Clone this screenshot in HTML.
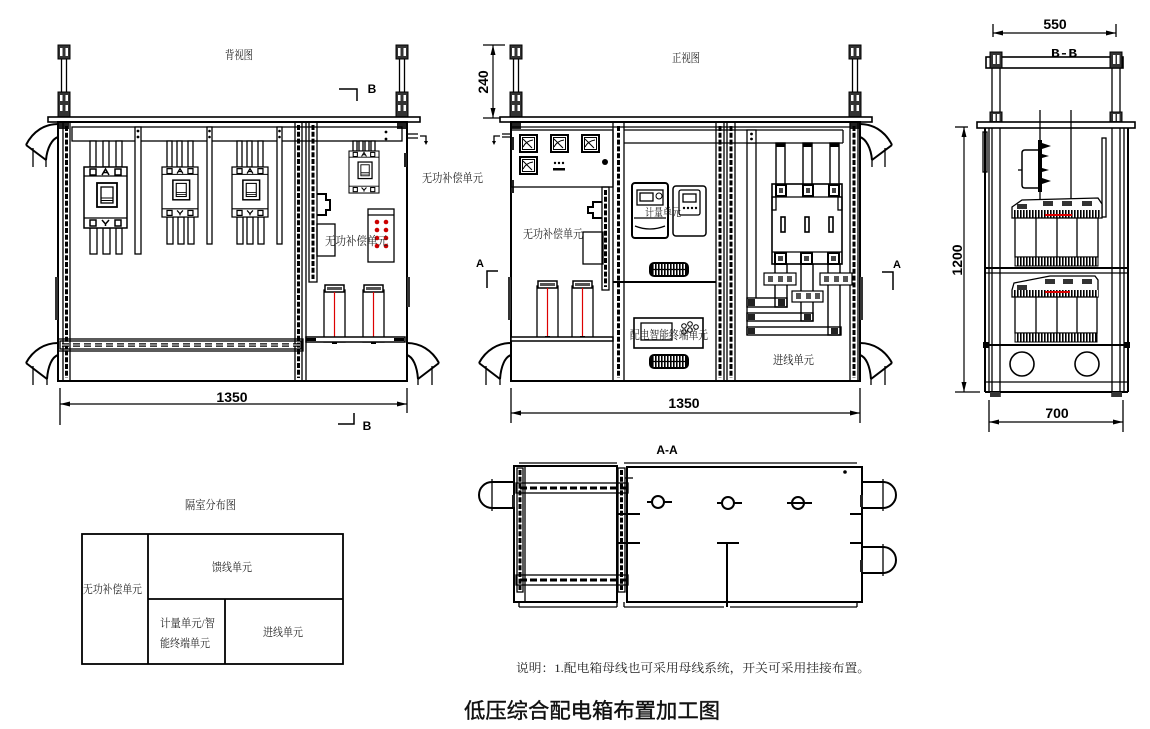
<!DOCTYPE html>
<html><head><meta charset="utf-8">
<style>
html,body{margin:0;padding:0;background:#fff;}
svg{display:block}
.l{fill:none;stroke:#000;stroke-width:1.3}
.w{fill:#fff;stroke:#000;stroke-width:1.3}
.b{fill:none;stroke:#000;stroke-width:2}
.k{fill:#000;stroke:none}
.dv{fill:none;stroke:#000;stroke-width:3;stroke-dasharray:5 1.8}
.cn{font-family:"Liberation Serif","Noto Serif CJK SC",serif;fill:#222}
.num{font-family:"Liberation Sans",sans-serif;font-weight:bold;fill:#000}
</style></head><body>
<svg width="1150" height="729" viewBox="0 0 1150 729" xmlns="http://www.w3.org/2000/svg">
<defs>
<marker id="ar" markerUnits="userSpaceOnUse" markerWidth="10" markerHeight="5" refX="10" refY="2.5" orient="auto-start-reverse" viewBox="0 0 10 5"><path d="M0,0L10,2.5L0,5z"/></marker>
<pattern id="vs" width="3" height="10" patternUnits="userSpaceOnUse"><rect width="3" height="10" fill="#fff"/><rect width="1.6" height="10" fill="#000"/></pattern>
<g id="bolt">
 <line class="l" x1="-2.5" y1="45" x2="-2.5" y2="120"/>
 <line class="l" x1="2.5" y1="45" x2="2.5" y2="120"/>
 <rect x="-6" y="45" width="12" height="14" fill="#333" stroke="#000"/>
 <rect x="-4" y="48" width="2.5" height="8" fill="#fff"/>
 <rect x="1.5" y="48" width="2.5" height="8" fill="#fff"/>
 <rect x="-6" y="92" width="12" height="25" fill="#333" stroke="#000"/>
 <rect x="-4" y="95" width="2.5" height="6" fill="#fff"/>
 <rect x="1.5" y="95" width="2.5" height="6" fill="#fff"/>
 <rect x="-4" y="105" width="2.5" height="6" fill="#fff"/>
 <rect x="1.5" y="105" width="2.5" height="6" fill="#fff"/>
 <rect x="-5" y="122" width="10" height="7" fill="#222"/>
</g>
<g id="elbT">
 <path class="b" d="M58,124 C45,124 33,131 26,145"/>
 <path class="b" d="M58,137 C52,139 47,148 46,160"/>
 <path class="b" d="M26,145 L46,160"/>
 <path class="l" d="M33,148 V167 M46,160 V167"/>
</g>
<g id="elbB">
 <path class="b" d="M58,343 C45,343 33,350 26,363"/>
 <path class="b" d="M58,355 C52,357 48,366 47,379"/>
 <path class="b" d="M26,363 L47,379"/>
 <path class="l" d="M33,366 V385 M47,379 V385"/>
</g>
<g id="cap">
 <rect class="w" x="0" y="5" width="21" height="52"/>
 <rect x="1" y="0" width="19" height="7" fill="#fff" stroke="#000" stroke-width="1.5"/>
 <rect x="3" y="2" width="15" height="3" fill="#555"/>
 <line x1="10.5" y1="7" x2="10.5" y2="56" stroke="#d00" stroke-width="1.2"/>
 <rect x="8" y="55" width="5" height="4" fill="#000"/>
</g>
<g id="gauge">
 <rect x="0" y="0" width="17" height="17" fill="#fff" stroke="#000" stroke-width="2"/>
 <rect x="2.5" y="2.5" width="12" height="12" fill="none" stroke="#000"/>
 <path d="M3,4 L12,13 M3,12 Q6,6 13,5" fill="none" stroke="#000"/>
</g>
<g id="grille">
 <rect x="0" y="0" width="40" height="15" rx="5" fill="#000"/>
 <rect x="3" y="2" width="34" height="11" fill="url(#vs)"/>
 <line x1="3" y1="7.5" x2="37" y2="7.5" stroke="#000" stroke-width="1.2"/>
</g>
<g id="brk">
 <rect x="0" y="0" width="43" height="61" fill="#fff" stroke="#000" stroke-width="1.5"/>
 <line x1="0" y1="9" x2="43" y2="9" stroke="#000" stroke-width="1.3"/>
 <line x1="0" y1="51" x2="43" y2="51" stroke="#000" stroke-width="1.3"/>
 <rect x="6" y="2" width="6" height="6" fill="none" stroke="#000" stroke-width="1.5"/>
 <rect x="31" y="2" width="6" height="6" fill="none" stroke="#000" stroke-width="1.5"/>
 <path d="M18,8 L21.5,2 L25,8 M19.5,5.5 H23.5" fill="none" stroke="#000" stroke-width="1.5"/>
 <rect x="13" y="16" width="20" height="24" fill="none" stroke="#000" stroke-width="1.8"/>
 <rect x="17" y="20" width="12" height="16" fill="none" stroke="#000" stroke-width="1.3"/>
 <line x1="17" y1="31" x2="29" y2="31" stroke="#000"/>
 <line x1="17" y1="33.5" x2="29" y2="33.5" stroke="#000"/>
 <rect x="6" y="53" width="6" height="6" fill="none" stroke="#000" stroke-width="1.5"/>
 <rect x="31" y="53" width="6" height="6" fill="none" stroke="#000" stroke-width="1.5"/>
 <path d="M18,53 L21.5,57 L25,53 M21.5,57 V59" fill="none" stroke="#000" stroke-width="1.5"/>
</g>
</defs>

<!-- ================= BACK VIEW ================= -->
<text class="cn" x="225" y="59" font-size="12" textLength="28" lengthAdjust="spacingAndGlyphs">背视图</text>
<use href="#bolt" transform="translate(64,0)"/>
<use href="#bolt" transform="translate(402,0)"/>
<rect class="w" x="48" y="117" width="372" height="5" style="stroke-width:1.6"/>
<use href="#elbT"/>
<use href="#elbB"/>
<use href="#elbB" transform="translate(465,0) scale(-1,1)"/>
<rect class="b" x="58" y="122" width="349" height="259"/>
<line class="l" x1="63" y1="122" x2="63" y2="381"/>
<line class="l" x1="70" y1="122" x2="70" y2="381"/>
<line class="dv" x1="66.5" y1="126" x2="66.5" y2="378"/>
<rect class="l" x="72" y="127" width="330" height="14"/>
<rect x="55" y="277" width="3" height="43" fill="#333"/>
<rect x="407" y="277" width="3" height="30" fill="#333"/>
<rect x="404" y="153" width="3" height="14" fill="#222"/>
<path class="l" d="M408,134 H418 M408,138 H418 M420,136 H426 V143" />
<path d="M424,141 L426,145 L428,141z"/>
<g fill="#fff" stroke="#000" stroke-width="1.3">
 <rect x="90" y="141" width="6" height="26"/><rect x="103" y="141" width="6" height="26"/><rect x="116" y="141" width="6" height="26"/>
 <rect x="90" y="228" width="7" height="26"/><rect x="103" y="228" width="7" height="26"/><rect x="116" y="228" width="6" height="26"/>
 <rect x="167" y="141" width="5" height="26"/><rect x="177" y="141" width="5" height="26"/><rect x="188" y="141" width="5" height="26"/>
 <rect x="167" y="217" width="6" height="27"/><rect x="178" y="217" width="6" height="27"/><rect x="188" y="217" width="6" height="27"/>
 <rect x="237" y="141" width="5" height="26"/><rect x="247" y="141" width="5" height="26"/><rect x="258" y="141" width="5" height="26"/>
 <rect x="237" y="217" width="6" height="27"/><rect x="247" y="217" width="6" height="27"/><rect x="258" y="217" width="6" height="27"/>
 <rect x="135" y="127" width="6" height="127"/>
 <rect x="207" y="127" width="5" height="117"/>
 <rect x="277" y="127" width="5" height="117"/>
 <rect x="353" y="141" width="4" height="10"/><rect x="359" y="141" width="4" height="10"/><rect x="365" y="141" width="4" height="10"/><rect x="371" y="141" width="4" height="10"/>
</g>
<g fill="#000"><circle cx="138" cy="131" r="1.4"/><circle cx="138" cy="137" r="1.4"/><circle cx="209.5" cy="131" r="1.3"/><circle cx="209.5" cy="137" r="1.3"/><circle cx="279.5" cy="131" r="1.3"/><circle cx="279.5" cy="137" r="1.3"/><circle cx="386" cy="132" r="1.4"/><circle cx="386" cy="139" r="1.4"/></g>
<use href="#brk" transform="translate(84,167)"/>
<use href="#brk" transform="translate(162,167) scale(0.837,0.82)"/>
<use href="#brk" transform="translate(232,167) scale(0.837,0.82)"/>
<use href="#brk" transform="translate(349,151) scale(0.698,0.689)"/>
<rect class="l" x="295" y="122" width="7" height="259"/><line class="dv" x1="298.5" y1="125" x2="298.5" y2="378"/>
<line class="l" x1="306" y1="122" x2="306" y2="381"/>
<rect class="l" x="309" y="122" width="8" height="160"/><line class="dv" x1="313" y1="125" x2="313" y2="279"/>
<path class="b" d="M317,194 H326 V200 H330 V210 H326 V215 H317"/>
<rect class="l" x="317" y="224" width="18" height="32"/>
<rect class="w" x="368" y="209" width="26" height="53"/>
<line class="l" x1="368" y1="215" x2="394" y2="215"/>
<g fill="#c00"><circle cx="377" cy="222" r="2.3"/><circle cx="386" cy="222" r="2.3"/><circle cx="377" cy="230" r="2.3"/><circle cx="386" cy="230" r="2.3"/><circle cx="377" cy="238" r="2.3"/><circle cx="386" cy="238" r="2.3"/><circle cx="377" cy="246" r="2.3"/><circle cx="386" cy="246" r="2.3"/></g>
<text class="cn" x="325" y="245" font-size="12" textLength="63" lengthAdjust="spacingAndGlyphs">无功补偿单元</text>
<use href="#cap" transform="translate(324,285)"/>
<use href="#cap" transform="translate(363,285)"/>
<rect x="306" y="337" width="99" height="5" fill="#fff" stroke="#000" stroke-width="1.5"/>
<rect x="306" y="338" width="10" height="3" fill="#000"/><rect x="394" y="338" width="10" height="3" fill="#000"/>
<rect class="l" x="58" y="339" width="245" height="12"/>
<rect class="l" x="60" y="341" width="241" height="8"/>
<line x1="62" y1="345" x2="300" y2="345" stroke="#000" stroke-width="3.5" stroke-dasharray="7 4"/>
<line x1="62" y1="345" x2="300" y2="345" stroke="#fff" stroke-width="1" stroke-dasharray="7 4"/>
<line class="l" x1="60" y1="388" x2="60" y2="425"/>
<line class="l" x1="407" y1="388" x2="407" y2="413"/>
<line x1="60" y1="404" x2="407" y2="404" stroke="#000" stroke-width="1.2" marker-start="url(#ar)" marker-end="url(#ar)"/>
<text class="num" x="232" y="402" font-size="14" text-anchor="middle">1350</text>
<path class="l" d="M339,89 H357 V101" style="stroke-width:1.5"/>
<text class="num" x="372" y="93" font-size="12" text-anchor="middle">B</text>
<path class="l" d="M338,424 H354 V413" style="stroke-width:1.5"/>
<text class="num" x="367" y="430" font-size="12" text-anchor="middle">B</text>
<text class="cn" x="422" y="182" font-size="12" textLength="61" lengthAdjust="spacingAndGlyphs">无功补偿单元</text>

<!-- ================= FRONT VIEW ================= -->
<text class="cn" x="672" y="62" font-size="12" textLength="28" lengthAdjust="spacingAndGlyphs">正视图</text>
<use href="#bolt" transform="translate(516,0)"/>
<use href="#bolt" transform="translate(855,0)"/>
<rect class="w" x="500" y="117" width="372" height="5" style="stroke-width:1.6"/>
<use href="#elbB" transform="translate(453,0)"/>
<use href="#elbB" transform="translate(918,0) scale(-1,1)"/>
<use href="#elbT" transform="translate(918,0) scale(-1,1)"/>
<rect class="b" x="511" y="122" width="349" height="259"/>
<line class="l" x1="511" y1="127" x2="850" y2="127"/>
<rect x="508" y="277" width="3" height="43" fill="#333"/>
<rect x="860" y="277" width="3" height="43" fill="#333"/>
<rect x="511" y="137" width="3" height="13" fill="#222"/>
<rect x="511" y="180" width="3" height="13" fill="#222"/>
<path class="l" d="M502,134 H510 M502,137 H510 M500,136 H494 V142"/>
<path d="M492,141 L494,145 L496,141z"/>
<rect class="l" x="511" y="130" width="102" height="57"/>
<use href="#gauge" transform="translate(520,135)"/>
<use href="#gauge" transform="translate(551,135)"/>
<use href="#gauge" transform="translate(582,135)"/>
<use href="#gauge" transform="translate(520,157)"/>
<g fill="#000"><circle cx="555" cy="163" r="1.2"/><circle cx="559" cy="163" r="1.2"/><circle cx="563" cy="163" r="1.2"/><rect x="553" y="168" width="12" height="2.5"/><circle cx="605" cy="162" r="3"/></g>
<rect class="l" x="602" y="187" width="7" height="103"/><line class="dv" x1="605.5" y1="190" x2="605.5" y2="287"/>
<path class="b" d="M602,202 H593 V207 H588 V213 H593 V218 H602"/>
<rect class="l" x="583" y="232" width="20" height="32"/>
<text class="cn" x="523" y="238" font-size="12" textLength="60" lengthAdjust="spacingAndGlyphs">无功补偿单元</text>
<use href="#cap" transform="translate(537,281)"/>
<use href="#cap" transform="translate(572,281)"/>
<rect x="511" y="337" width="102" height="4" fill="#fff" stroke="#000" stroke-width="1.5"/>
<rect class="l" x="613" y="122" width="11" height="259"/><line class="dv" x1="618.5" y1="126" x2="618.5" y2="378"/>
<rect class="l" x="716" y="122" width="8" height="259"/><line class="dv" x1="720" y1="126" x2="720" y2="378"/>
<rect class="l" x="727" y="122" width="8" height="259"/><line class="dv" x1="731" y1="126" x2="731" y2="378"/>
<rect class="l" x="850" y="122" width="8" height="259"/><line class="dv" x1="854" y1="126" x2="854" y2="378"/>
<line class="l" x1="624" y1="130" x2="843" y2="130"/>
<line class="l" x1="624" y1="143" x2="843" y2="143"/>
<line class="l" x1="843" y1="130" x2="843" y2="143"/>
<line class="b" x1="613" y1="282" x2="716" y2="282"/>
<rect x="632" y="183" width="36" height="55" rx="3" fill="#fff" stroke="#000" stroke-width="2"/>
<rect class="l" x="637" y="190" width="26" height="15"/>
<rect class="l" x="640" y="193" width="13" height="8"/>
<circle cx="659" cy="196" r="3" fill="none" stroke="#000"/>
<line class="l" x1="634" y1="218" x2="666" y2="218"/>
<path class="l" d="M635,226 Q650,232 665,226"/>
<rect x="673" y="186" width="33" height="50" rx="3" fill="#fff" stroke="#000" stroke-width="1.5"/>
<rect class="l" x="679" y="190" width="21" height="25" rx="2"/>
<rect class="l" x="683" y="194" width="13" height="8"/>
<g fill="#000"><circle cx="684" cy="208" r="1.2"/><circle cx="688" cy="208" r="1.2"/><circle cx="692" cy="208" r="1.2"/><circle cx="696" cy="208" r="1.2"/></g>
<text class="cn" x="645" y="216" font-size="11" textLength="36" lengthAdjust="spacingAndGlyphs" fill="#555">计量单元</text>
<use href="#grille" transform="translate(649,262)"/>
<rect class="w" x="634" y="318" width="69" height="30" style="stroke-width:1.6"/>
<rect class="l" x="641" y="323" width="31" height="17"/>
<g fill="none" stroke="#000"><circle cx="684" cy="326" r="2.3"/><circle cx="690" cy="324" r="2.3"/><circle cx="690" cy="330" r="2.3"/><circle cx="696" cy="327" r="2.3"/><circle cx="684" cy="332" r="2.3"/></g>
<text class="cn" x="630" y="339" font-size="12" textLength="78" lengthAdjust="spacingAndGlyphs">配电智能终端单元</text>
<use href="#grille" transform="translate(649,354)"/>
<rect class="w" x="747" y="130" width="9" height="13"/>
<circle cx="751.5" cy="134" r="1.4"/><circle cx="751.5" cy="139" r="1.4"/>
<line class="l" x1="747" y1="143" x2="747" y2="335"/>
<line class="l" x1="756" y1="143" x2="756" y2="298"/>
<g fill="#fff" stroke="#000" stroke-width="1.4">
 <rect x="776" y="143" width="9" height="42"/><rect x="803" y="143" width="9" height="42"/><rect x="830" y="143" width="9" height="42"/>
</g>
<g fill="#000"><rect x="776" y="143" width="9" height="4"/><rect x="803" y="143" width="9" height="4"/><rect x="830" y="143" width="9" height="4"/></g>
<rect class="w" x="772" y="184" width="70" height="80" style="stroke-width:1.6"/>
<line class="l" x1="772" y1="197" x2="842" y2="197"/>
<line class="l" x1="772" y1="252" x2="842" y2="252"/>
<g fill="#fff" stroke="#000" stroke-width="2">
 <rect x="776" y="185" width="10" height="11"/><rect x="803" y="185" width="10" height="11"/><rect x="829" y="185" width="10" height="11"/>
 <rect x="775" y="253" width="11" height="11"/><rect x="801" y="253" width="11" height="11"/><rect x="828" y="253" width="11" height="11"/>
</g>
<g fill="#444"><rect x="779" y="188" width="4" height="5"/><rect x="806" y="188" width="4" height="5"/><rect x="832" y="188" width="4" height="5"/><rect x="778" y="256" width="5" height="5"/><rect x="804" y="256" width="5" height="5"/><rect x="831" y="256" width="5" height="5"/></g>
<rect class="l" x="772" y="197" width="4" height="13"/><rect class="l" x="838" y="197" width="4" height="13"/>
<g fill="none" stroke="#000" stroke-width="1.6"><rect x="781" y="217" width="4" height="15"/><rect x="805" y="217" width="4" height="15"/><rect x="829" y="217" width="4" height="15"/></g>
<g fill="none" stroke="#000" stroke-width="1.4">
 <rect x="775" y="264" width="12" height="43"/><rect x="801" y="264" width="12" height="57"/><rect x="828" y="264" width="12" height="71"/>
 <rect x="747" y="298" width="40" height="9"/><rect x="747" y="313" width="66" height="8"/><rect x="747" y="327" width="94" height="8"/>
</g>
<g fill="#fff" stroke="#000" stroke-width="1.2">
 <rect x="764" y="273" width="32" height="12"/><rect x="820" y="273" width="32" height="12"/><rect x="792" y="291" width="31" height="11"/>
</g>
<g fill="#555"><rect x="768" y="276" width="5" height="6"/><rect x="778" y="276" width="5" height="6"/><rect x="787" y="276" width="5" height="6"/>
<rect x="824" y="276" width="5" height="6"/><rect x="834" y="276" width="5" height="6"/><rect x="843" y="276" width="5" height="6"/>
<rect x="796" y="293" width="5" height="6"/><rect x="806" y="293" width="5" height="6"/><rect x="815" y="293" width="5" height="6"/></g>
<g fill="#222"><rect x="748" y="299" width="7" height="7"/><rect x="778" y="299" width="7" height="7"/><rect x="748" y="314" width="7" height="6"/><rect x="804" y="314" width="7" height="6"/><rect x="748" y="328" width="7" height="6"/><rect x="831" y="328" width="7" height="6"/></g>
<text class="cn" x="773" y="364" font-size="12" textLength="41" lengthAdjust="spacingAndGlyphs">进线单元</text>
<line class="l" x1="511" y1="388" x2="511" y2="423"/>
<line class="l" x1="860" y1="388" x2="860" y2="423"/>
<line x1="511" y1="413" x2="860" y2="413" stroke="#000" stroke-width="1.2" marker-start="url(#ar)" marker-end="url(#ar)"/>
<text class="num" x="684" y="408" font-size="14" text-anchor="middle">1350</text>
<line class="l" x1="483" y1="45" x2="505" y2="45"/>
<line class="l" x1="483" y1="118" x2="500" y2="118"/>
<line x1="493" y1="45" x2="493" y2="118" stroke="#000" stroke-width="1.2" marker-start="url(#ar)" marker-end="url(#ar)"/>
<text class="num" font-size="14" text-anchor="middle" transform="translate(488,82) rotate(-90)">240</text>
<text class="num" x="480" y="267" font-size="11" text-anchor="middle">A</text>
<path class="l" d="M498,271 H487 V288" style="stroke-width:1.5"/>
<text class="num" x="897" y="268" font-size="11" text-anchor="middle">A</text>
<path class="l" d="M882,272 H893 V290" style="stroke-width:1.5"/>

<!-- ================= B-B VIEW ================= -->
<text class="num" x="1055" y="29" font-size="14" text-anchor="middle">550</text>
<line class="l" x1="993" y1="24" x2="993" y2="37"/>
<line class="l" x1="1116" y1="24" x2="1116" y2="37"/>
<line x1="993" y1="33" x2="1116" y2="33" stroke="#000" stroke-width="1.2" marker-start="url(#ar)" marker-end="url(#ar)"/>
<text x="1051" y="57" font-size="12" font-family="Liberation Mono, monospace" font-weight="bold" textLength="26" lengthAdjust="spacingAndGlyphs">B-B</text>
<rect class="w" x="986" y="57" width="137" height="11" style="stroke-width:1.6"/>
<g class="l"><line x1="992" y1="52" x2="992" y2="397"/><line x1="1000" y1="52" x2="1000" y2="397"/><line x1="1112" y1="52" x2="1112" y2="397"/><line x1="1120" y1="52" x2="1120" y2="397"/></g>
<g fill="#333" stroke="#000"><rect x="990" y="52" width="12" height="16"/><rect x="1110" y="52" width="12" height="16"/><rect x="990" y="112" width="12" height="12"/><rect x="1110" y="112" width="12" height="12"/></g>
<g fill="#fff"><rect x="993" y="55" width="2.5" height="9"/><rect x="997" y="55" width="2.5" height="9"/><rect x="1113" y="55" width="2.5" height="9"/><rect x="1117" y="55" width="2.5" height="9"/><rect x="993" y="114" width="2.5" height="7"/><rect x="997" y="114" width="2.5" height="7"/><rect x="1113" y="114" width="2.5" height="7"/><rect x="1117" y="114" width="2.5" height="7"/></g>
<rect class="w" x="977" y="122" width="158" height="6" style="stroke-width:1.6"/>
<line class="b" x1="985" y1="128" x2="985" y2="392"/>
<line class="l" x1="989" y1="128" x2="989" y2="392"/>
<line class="b" x1="1128" y1="128" x2="1128" y2="392"/>
<line class="l" x1="1124" y1="128" x2="1124" y2="392"/>
<rect class="l" x="983" y="132" width="4" height="40"/>
<rect class="l" x="1102" y="138" width="4" height="79"/>
<line class="l" x1="1040" y1="110" x2="1040" y2="200"/>
<line class="l" x1="1071" y1="110" x2="1071" y2="200"/>
<path class="l" d="M1038,150 H1025 Q1022,150 1022,153 V185 Q1022,188 1025,188 H1038" style="stroke-width:1.5"/>
<rect x="1038" y="140" width="4" height="52" fill="#000"/>
<g fill="#000"><path d="M1042,143 L1051,146 L1042,149z"/><path d="M1042,154 L1049,156 L1042,158z"/><path d="M1042,168 L1049,170 L1042,172z"/><path d="M1042,178 L1051,181 L1042,184z"/></g>
<line class="l" x1="1018" y1="170" x2="1022" y2="170"/>
<path class="w" d="M1012,207 L1022,200 L1098,198 L1102,204 V218 H1012 Z"/>
<g fill="#333"><rect x="1017" y="204" width="10" height="5"/><rect x="1043" y="201" width="10" height="5"/><rect x="1062" y="201" width="10" height="5"/><rect x="1082" y="201" width="10" height="5"/></g>
<rect x="1014" y="210" width="86" height="8" fill="url(#vs)"/>
<line x1="1045" y1="215" x2="1072" y2="215" stroke="#d00" stroke-width="2"/>
<rect class="w" x="1015" y="218" width="83" height="39"/>
<g class="l"><line x1="1036" y1="218" x2="1036" y2="257"/><line x1="1057" y1="218" x2="1057" y2="257"/><line x1="1077" y1="218" x2="1077" y2="257"/></g>
<rect x="1015" y="257" width="83" height="9" fill="url(#vs)" stroke="#000"/>
<line class="b" x1="985" y1="268" x2="1128" y2="268"/>
<line class="l" x1="985" y1="273" x2="1128" y2="273"/>
<path class="w" d="M1012,290 L1014,283 L1050,276 H1095 L1098,280 V297 H1012 Z"/>
<g fill="#333"><rect x="1017" y="285" width="10" height="5"/><rect x="1045" y="279" width="10" height="5"/><rect x="1063" y="279" width="10" height="5"/><rect x="1082" y="279" width="10" height="5"/></g>
<rect x="1014" y="290" width="84" height="7" fill="url(#vs)"/>
<line x1="1045" y1="292" x2="1070" y2="292" stroke="#d00" stroke-width="2"/>
<rect class="w" x="1015" y="297" width="82" height="36"/>
<g class="l"><line x1="1036" y1="297" x2="1036" y2="333"/><line x1="1057" y1="297" x2="1057" y2="333"/><line x1="1077" y1="297" x2="1077" y2="333"/></g>
<rect x="1015" y="333" width="82" height="9" fill="url(#vs)" stroke="#000"/>
<line class="b" x1="985" y1="345" x2="1128" y2="345"/>
<rect x="983" y="342" width="6" height="6" fill="#000"/><rect x="1124" y="342" width="6" height="6" fill="#000"/>
<line class="l" x1="985" y1="382" x2="1128" y2="382"/>
<line class="b" x1="985" y1="392" x2="1128" y2="392"/>
<circle cx="1022" cy="364" r="12" fill="none" stroke="#000" stroke-width="1.6"/>
<circle cx="1087" cy="364" r="12" fill="none" stroke="#000" stroke-width="1.6"/>
<rect x="990" y="392" width="10" height="5" fill="#333"/><rect x="1112" y="392" width="10" height="5" fill="#333"/>
<line class="l" x1="955" y1="127" x2="968" y2="127"/>
<line class="l" x1="955" y1="392" x2="980" y2="392"/>
<line x1="964" y1="127" x2="964" y2="392" stroke="#000" stroke-width="1.2" marker-start="url(#ar)" marker-end="url(#ar)"/>
<text class="num" font-size="14" text-anchor="middle" transform="translate(962,260) rotate(-90)">1200</text>
<line class="l" x1="989" y1="400" x2="989" y2="432"/>
<line class="l" x1="1123" y1="400" x2="1123" y2="432"/>
<line x1="989" y1="422" x2="1123" y2="422" stroke="#000" stroke-width="1.2" marker-start="url(#ar)" marker-end="url(#ar)"/>
<text class="num" x="1057" y="418" font-size="14" text-anchor="middle">700</text>

<!-- ================= A-A ================= -->
<text class="num" x="667" y="454" font-size="12" text-anchor="middle">A-A</text>
<line class="l" x1="519" y1="463" x2="617" y2="463"/>
<line class="l" x1="624" y1="463" x2="857" y2="463"/>
<rect class="b" x="514" y="466" width="103" height="136"/>
<rect class="b" x="627" y="467" width="235" height="135"/>
<line class="l" x1="525" y1="466" x2="525" y2="602"/>
<line class="l" x1="519" y1="607" x2="617" y2="607"/>
<line class="l" x1="624" y1="607" x2="724" y2="607"/>
<line class="l" x1="730" y1="607" x2="857" y2="607"/>
<line class="l" x1="519" y1="602" x2="519" y2="607"/><line class="l" x1="617" y1="602" x2="617" y2="607"/>
<line class="l" x1="624" y1="602" x2="624" y2="607"/><line class="l" x1="857" y1="602" x2="857" y2="607"/>
<rect class="l" x="516" y="483" width="112" height="10"/><line x1="520" y1="488" x2="626" y2="488" stroke="#000" stroke-width="3" stroke-dasharray="7 3"/>
<rect class="l" x="516" y="575" width="112" height="10"/><line x1="520" y1="580" x2="626" y2="580" stroke="#000" stroke-width="3" stroke-dasharray="7 3"/>
<rect class="l" x="517" y="468" width="6" height="124"/><line class="dv" x1="520" y1="470" x2="520" y2="590"/>
<rect class="l" x="618" y="468" width="7" height="124"/><line class="dv" x1="621.5" y1="470" x2="621.5" y2="590"/>
<line class="b" x1="617" y1="514" x2="640" y2="514"/>
<line class="b" x1="617" y1="543" x2="640" y2="543"/>
<line class="b" x1="850" y1="514" x2="862" y2="514"/>
<line class="b" x1="850" y1="543" x2="862" y2="543"/>
<line class="l" x1="625" y1="478" x2="633" y2="478"/>
<circle cx="658" cy="502" r="6" fill="#fff" stroke="#000" stroke-width="2"/>
<line class="b" x1="647" y1="502" x2="652" y2="502"/><line class="b" x1="664" y1="502" x2="672" y2="502"/>
<circle cx="728" cy="503" r="6" fill="#fff" stroke="#000" stroke-width="2"/>
<line class="b" x1="717" y1="503" x2="722" y2="503"/><line class="b" x1="734" y1="503" x2="742" y2="503"/>
<circle cx="798" cy="503" r="6" fill="#fff" stroke="#000" stroke-width="2"/>
<line class="b" x1="787" y1="503" x2="812" y2="503"/>
<line class="b" x1="717" y1="543" x2="739" y2="543"/>
<line class="b" x1="727" y1="543" x2="727" y2="607"/>
<circle cx="845" cy="472" r="1.8" fill="#000"/>
<path class="b" d="M514,482 H492 A13,13 0 0 0 492,508 H514"/>
<line class="l" x1="492" y1="479" x2="492" y2="511"/>
<path class="b" d="M862,482 H883 A13,13 0 0 1 883,508 H862"/>
<line class="l" x1="883" y1="479" x2="883" y2="511"/>
<path class="b" d="M862,547 H883 A13,13 0 0 1 883,573 H862"/>
<line class="l" x1="883" y1="544" x2="883" y2="576"/>
<rect x="512" y="495" width="3" height="12" fill="#222"/>
<rect x="860" y="495" width="3" height="12" fill="#222"/>
<rect x="860" y="560" width="3" height="12" fill="#222"/>

<!-- ================= TABLE ================= -->
<text class="cn" x="185" y="509" font-size="12" textLength="51" lengthAdjust="spacingAndGlyphs">隔室分布图</text>
<rect x="82" y="534" width="261" height="130" fill="none" stroke="#000" stroke-width="1.8"/>
<line x1="148" y1="534" x2="148" y2="664" stroke="#000" stroke-width="1.8"/>
<line x1="148" y1="599" x2="343" y2="599" stroke="#000" stroke-width="1.8"/>
<line x1="225" y1="599" x2="225" y2="664" stroke="#000" stroke-width="1.8"/>
<text class="cn" x="83" y="593" font-size="11.5" textLength="59" lengthAdjust="spacingAndGlyphs">无功补偿单元</text>
<text class="cn" x="212" y="571" font-size="11.5" textLength="40" lengthAdjust="spacingAndGlyphs">馈线单元</text>
<text class="cn" x="160" y="627" font-size="11.5" textLength="55" lengthAdjust="spacingAndGlyphs">计量单元/智</text>
<text class="cn" x="160" y="647" font-size="11.5" textLength="50" lengthAdjust="spacingAndGlyphs">能终端单元</text>
<text class="cn" x="263" y="636" font-size="11.5" textLength="40" lengthAdjust="spacingAndGlyphs">进线单元</text>

<!-- ================= NOTES & TITLE ================= -->
<text class="cn" x="516" y="672" font-size="12" textLength="354" lengthAdjust="spacingAndGlyphs">说明：1.配电箱母线也可采用母线系统，开关可采用挂接布置。</text>
<text x="464" y="718" font-size="21" textLength="256" lengthAdjust="spacingAndGlyphs" font-family="Liberation Sans, Noto Sans CJK SC, sans-serif" fill="#111" stroke="#111" stroke-width="0.4">低压综合配电箱布置加工图</text>
</svg>
</body></html>
